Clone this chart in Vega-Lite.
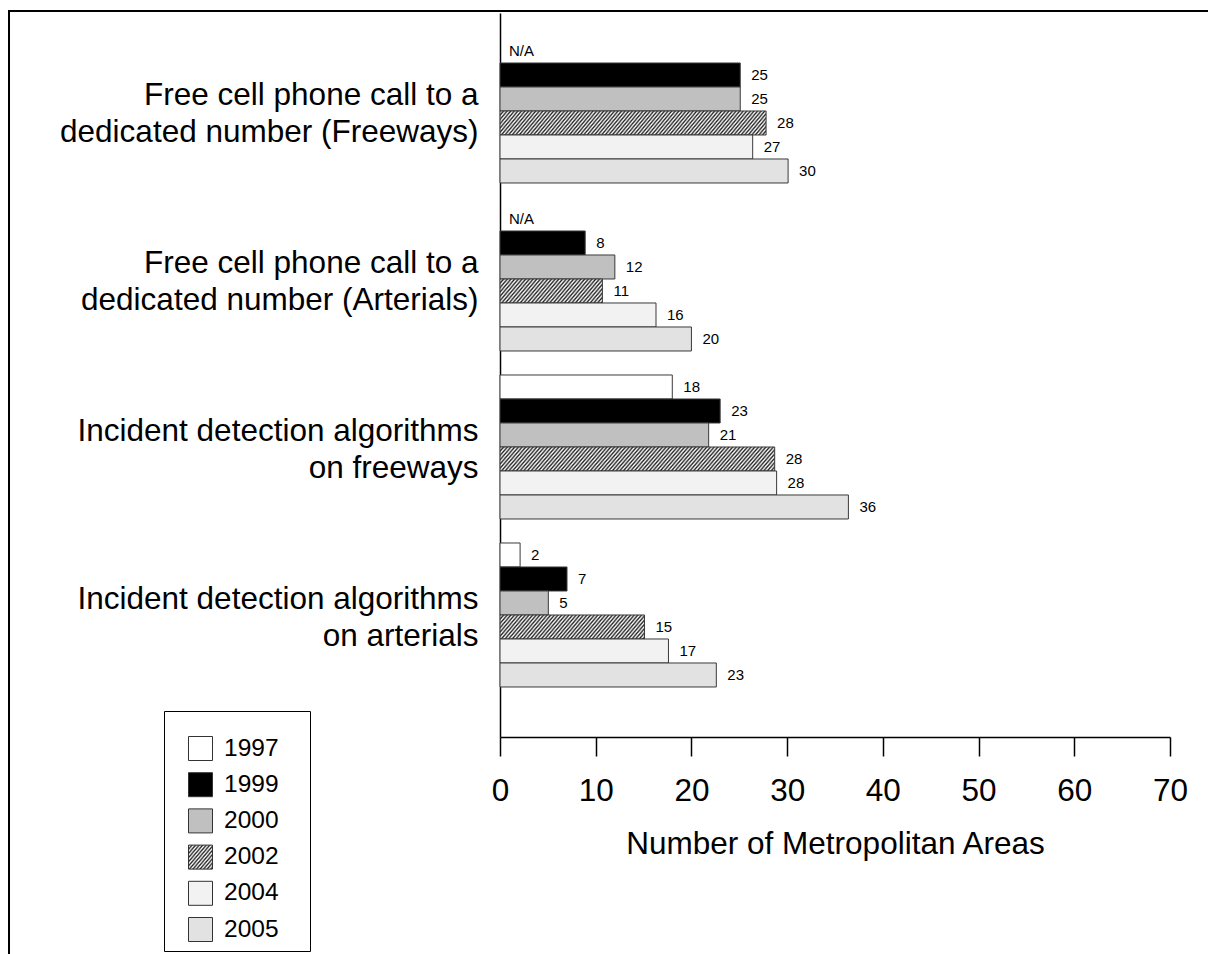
{
  "$schema": "https://vega.github.io/schema/vega-lite/v6.json",
  "padding": {"left": 8, "top": 10, "right": 0, "bottom": 0},
  "background": "white",
  "config": {"view": {"stroke": null}, "font": "Liberation Sans"},
  "params": [
    {"name": "hatchLegend", "value": {"gradient": "linear", "x1": 0, "y1": 0, "x2": 1.074, "y2": 0.9129, "stops": [{"offset":0,"color":"#222"},{"offset":0.04,"color":"#fff"},{"offset":0.08,"color":"#222"},{"offset":0.12,"color":"#fff"},{"offset":0.16,"color":"#222"},{"offset":0.2,"color":"#fff"},{"offset":0.24,"color":"#222"},{"offset":0.28,"color":"#fff"},{"offset":0.32,"color":"#222"},{"offset":0.36,"color":"#fff"},{"offset":0.4,"color":"#222"},{"offset":0.44,"color":"#fff"},{"offset":0.48,"color":"#222"},{"offset":0.52,"color":"#fff"},{"offset":0.56,"color":"#222"},{"offset":0.6,"color":"#fff"},{"offset":0.64,"color":"#222"},{"offset":0.68,"color":"#fff"},{"offset":0.72,"color":"#222"},{"offset":0.76,"color":"#fff"},{"offset":0.8,"color":"#222"},{"offset":0.84,"color":"#fff"},{"offset":0.88,"color":"#222"},{"offset":0.92,"color":"#fff"},{"offset":0.96,"color":"#222"},{"offset":1,"color":"#fff"}]}}
  ],
  "spacing": -2,
  "resolve": {"scale": {"fill": "independent"}},
  "vconcat": [
    {
      "width": 1198, "height": 0.01,
      "data": {"values": []},
      "mark": {"type": "point", "opacity": 0},
      "view": {"stroke": "black", "strokeWidth": 2}
    },
    {
      "spacing": 48,
      "resolve": {"scale": {"fill": "independent"}},
      "hconcat": [
        {
          "width": 0.01, "height": 941,
          "data": {"values": []},
          "mark": {"type": "point", "opacity": 0},
          "view": {"stroke": "black", "strokeWidth": 2}
        },
        {
          "width": 670, "height": 724,
          "data": {"values": [
            {"measure": "Free cell phone call to a\ndedicated number (Freeways)", "year": "1997", "value": null, "label": "N/A"},
            {"measure": "Free cell phone call to a\ndedicated number (Freeways)", "year": "1999", "value": 25.1, "label": "25"},
            {"measure": "Free cell phone call to a\ndedicated number (Freeways)", "year": "2000", "value": 25.1, "label": "25"},
            {"measure": "Free cell phone call to a\ndedicated number (Freeways)", "year": "2002", "value": 27.8, "label": "28"},
            {"measure": "Free cell phone call to a\ndedicated number (Freeways)", "year": "2004", "value": 26.4, "label": "27"},
            {"measure": "Free cell phone call to a\ndedicated number (Freeways)", "year": "2005", "value": 30.1, "label": "30"},
            {"measure": "Free cell phone call to a\ndedicated number (Arterials)", "year": "1997", "value": null, "label": "N/A"},
            {"measure": "Free cell phone call to a\ndedicated number (Arterials)", "year": "1999", "value": 8.9, "label": "8"},
            {"measure": "Free cell phone call to a\ndedicated number (Arterials)", "year": "2000", "value": 12.0, "label": "12"},
            {"measure": "Free cell phone call to a\ndedicated number (Arterials)", "year": "2002", "value": 10.7, "label": "11"},
            {"measure": "Free cell phone call to a\ndedicated number (Arterials)", "year": "2004", "value": 16.3, "label": "16"},
            {"measure": "Free cell phone call to a\ndedicated number (Arterials)", "year": "2005", "value": 20.0, "label": "20"},
            {"measure": "Incident detection algorithms\non freeways", "year": "1997", "value": 18.0, "label": "18"},
            {"measure": "Incident detection algorithms\non freeways", "year": "1999", "value": 23.0, "label": "23"},
            {"measure": "Incident detection algorithms\non freeways", "year": "2000", "value": 21.8, "label": "21"},
            {"measure": "Incident detection algorithms\non freeways", "year": "2002", "value": 28.7, "label": "28"},
            {"measure": "Incident detection algorithms\non freeways", "year": "2004", "value": 28.9, "label": "28"},
            {"measure": "Incident detection algorithms\non freeways", "year": "2005", "value": 36.4, "label": "36"},
            {"measure": "Incident detection algorithms\non arterials", "year": "1997", "value": 2.1, "label": "2"},
            {"measure": "Incident detection algorithms\non arterials", "year": "1999", "value": 7.0, "label": "7"},
            {"measure": "Incident detection algorithms\non arterials", "year": "2000", "value": 5.05, "label": "5"},
            {"measure": "Incident detection algorithms\non arterials", "year": "2002", "value": 15.1, "label": "15"},
            {"measure": "Incident detection algorithms\non arterials", "year": "2004", "value": 17.6, "label": "17"},
            {"measure": "Incident detection algorithms\non arterials", "year": "2005", "value": 22.6, "label": "23"}
          ]},
          "encoding": {
            "y": {
              "field": "measure", "type": "nominal",
              "sort": ["Free cell phone call to a\ndedicated number (Freeways)", "Free cell phone call to a\ndedicated number (Arterials)", "Incident detection algorithms\non freeways", "Incident detection algorithms\non arterials"],
              "scale": {"paddingInner": 0.142857, "paddingOuter": 0.22619, "align": 0.342},
              "axis": {
                "title": null, "labelFontSize": 31.5, "labelLineHeight": 37, "labelPadding": 22, "labelOffset": -15,
                "ticks": false, "domainColor": "black", "domainWidth": 1.5, "labelColor": "black",
                "labelLimit": 1000, "labelAlign": "right", "labelExpr": "split(datum.label, '\\n')"
              }
            },
            "yOffset": {
              "field": "year", "type": "nominal",
              "sort": ["1997", "1999", "2000", "2002", "2004", "2005"],
              "scale": {"paddingInner": 0, "paddingOuter": 0}
            }
          },
          "layer": [
            {
              "mark": {"type": "bar", "stroke": "#3a3a3a", "strokeWidth": 1},
              "encoding": {
                "x": {
                  "field": "value", "type": "quantitative",
                  "scale": {"domain": [0, 70], "nice": false},
                  "axis": {
                    "values": [0, 10, 20, 30, 40, 50, 60, 70], "format": "d",
                    "title": "Number of Metropolitan Areas", "titleFontSize": 31.5, "titleFontWeight": "normal",
                    "titleColor": "black", "titlePadding": 22,
                    "labelFontSize": 31.5, "labelColor": "black", "labelPadding": 19, "labelFlush": false, "labelOverlap": false,
                    "tickSize": 19, "tickColor": "black", "tickWidth": 1.5,
                    "domainColor": "black", "domainWidth": 1.5, "grid": false
                  }
                },
                "fill": {
                  "condition": [
                    {"test": "datum.year === '2002' && (indexof(datum.measure, 'Freeways') >= 0 || indexof(datum.measure, 'on freeways') >= 0)",
                     "value": {"gradient": "linear", "x1": 0, "y1": 0, "x2": 1.0695, "y2": 0.0808, "stops": [
{"offset":0,"color":"#222"},{"offset":0.00625,"color":"#fff"},{"offset":0.0125,"color":"#222"},{"offset":0.01875,"color":"#fff"},{"offset":0.025,"color":"#222"},{"offset":0.03125,"color":"#fff"},{"offset":0.0375,"color":"#222"},{"offset":0.04375,"color":"#fff"},
{"offset":0.05,"color":"#222"},{"offset":0.05625,"color":"#fff"},{"offset":0.0625,"color":"#222"},{"offset":0.06875,"color":"#fff"},{"offset":0.075,"color":"#222"},{"offset":0.08125,"color":"#fff"},{"offset":0.0875,"color":"#222"},{"offset":0.09375,"color":"#fff"},
{"offset":0.1,"color":"#222"},{"offset":0.10625,"color":"#fff"},{"offset":0.1125,"color":"#222"},{"offset":0.11875,"color":"#fff"},{"offset":0.125,"color":"#222"},{"offset":0.13125,"color":"#fff"},{"offset":0.1375,"color":"#222"},{"offset":0.14375,"color":"#fff"},
{"offset":0.15,"color":"#222"},{"offset":0.15625,"color":"#fff"},{"offset":0.1625,"color":"#222"},{"offset":0.16875,"color":"#fff"},{"offset":0.175,"color":"#222"},{"offset":0.18125,"color":"#fff"},{"offset":0.1875,"color":"#222"},{"offset":0.19375,"color":"#fff"},
{"offset":0.2,"color":"#222"},{"offset":0.20625,"color":"#fff"},{"offset":0.2125,"color":"#222"},{"offset":0.21875,"color":"#fff"},{"offset":0.225,"color":"#222"},{"offset":0.23125,"color":"#fff"},{"offset":0.2375,"color":"#222"},{"offset":0.24375,"color":"#fff"},
{"offset":0.25,"color":"#222"},{"offset":0.25625,"color":"#fff"},{"offset":0.2625,"color":"#222"},{"offset":0.26875,"color":"#fff"},{"offset":0.275,"color":"#222"},{"offset":0.28125,"color":"#fff"},{"offset":0.2875,"color":"#222"},{"offset":0.29375,"color":"#fff"},
{"offset":0.3,"color":"#222"},{"offset":0.30625,"color":"#fff"},{"offset":0.3125,"color":"#222"},{"offset":0.31875,"color":"#fff"},{"offset":0.325,"color":"#222"},{"offset":0.33125,"color":"#fff"},{"offset":0.3375,"color":"#222"},{"offset":0.34375,"color":"#fff"},
{"offset":0.35,"color":"#222"},{"offset":0.35625,"color":"#fff"},{"offset":0.3625,"color":"#222"},{"offset":0.36875,"color":"#fff"},{"offset":0.375,"color":"#222"},{"offset":0.38125,"color":"#fff"},{"offset":0.3875,"color":"#222"},{"offset":0.39375,"color":"#fff"},
{"offset":0.4,"color":"#222"},{"offset":0.40625,"color":"#fff"},{"offset":0.4125,"color":"#222"},{"offset":0.41875,"color":"#fff"},{"offset":0.425,"color":"#222"},{"offset":0.43125,"color":"#fff"},{"offset":0.4375,"color":"#222"},{"offset":0.44375,"color":"#fff"},
{"offset":0.45,"color":"#222"},{"offset":0.45625,"color":"#fff"},{"offset":0.4625,"color":"#222"},{"offset":0.46875,"color":"#fff"},{"offset":0.475,"color":"#222"},{"offset":0.48125,"color":"#fff"},{"offset":0.4875,"color":"#222"},{"offset":0.49375,"color":"#fff"},
{"offset":0.5,"color":"#222"},{"offset":0.50625,"color":"#fff"},{"offset":0.5125,"color":"#222"},{"offset":0.51875,"color":"#fff"},{"offset":0.525,"color":"#222"},{"offset":0.53125,"color":"#fff"},{"offset":0.5375,"color":"#222"},{"offset":0.54375,"color":"#fff"},
{"offset":0.55,"color":"#222"},{"offset":0.55625,"color":"#fff"},{"offset":0.5625,"color":"#222"},{"offset":0.56875,"color":"#fff"},{"offset":0.575,"color":"#222"},{"offset":0.58125,"color":"#fff"},{"offset":0.5875,"color":"#222"},{"offset":0.59375,"color":"#fff"},
{"offset":0.6,"color":"#222"},{"offset":0.60625,"color":"#fff"},{"offset":0.6125,"color":"#222"},{"offset":0.61875,"color":"#fff"},{"offset":0.625,"color":"#222"},{"offset":0.63125,"color":"#fff"},{"offset":0.6375,"color":"#222"},{"offset":0.64375,"color":"#fff"},
{"offset":0.65,"color":"#222"},{"offset":0.65625,"color":"#fff"},{"offset":0.6625,"color":"#222"},{"offset":0.66875,"color":"#fff"},{"offset":0.675,"color":"#222"},{"offset":0.68125,"color":"#fff"},{"offset":0.6875,"color":"#222"},{"offset":0.69375,"color":"#fff"},
{"offset":0.7,"color":"#222"},{"offset":0.70625,"color":"#fff"},{"offset":0.7125,"color":"#222"},{"offset":0.71875,"color":"#fff"},{"offset":0.725,"color":"#222"},{"offset":0.73125,"color":"#fff"},{"offset":0.7375,"color":"#222"},{"offset":0.74375,"color":"#fff"},
{"offset":0.75,"color":"#222"},{"offset":0.75625,"color":"#fff"},{"offset":0.7625,"color":"#222"},{"offset":0.76875,"color":"#fff"},{"offset":0.775,"color":"#222"},{"offset":0.78125,"color":"#fff"},{"offset":0.7875,"color":"#222"},{"offset":0.79375,"color":"#fff"},
{"offset":0.8,"color":"#222"},{"offset":0.80625,"color":"#fff"},{"offset":0.8125,"color":"#222"},{"offset":0.81875,"color":"#fff"},{"offset":0.825,"color":"#222"},{"offset":0.83125,"color":"#fff"},{"offset":0.8375,"color":"#222"},{"offset":0.84375,"color":"#fff"},
{"offset":0.85,"color":"#222"},{"offset":0.85625,"color":"#fff"},{"offset":0.8625,"color":"#222"},{"offset":0.86875,"color":"#fff"},{"offset":0.875,"color":"#222"},{"offset":0.88125,"color":"#fff"},{"offset":0.8875,"color":"#222"},{"offset":0.89375,"color":"#fff"},
{"offset":0.9,"color":"#222"},{"offset":0.90625,"color":"#fff"},{"offset":0.9125,"color":"#222"},{"offset":0.91875,"color":"#fff"},{"offset":0.925,"color":"#222"},{"offset":0.93125,"color":"#fff"},{"offset":0.9375,"color":"#222"},{"offset":0.94375,"color":"#fff"},
{"offset":0.95,"color":"#222"},{"offset":0.95625,"color":"#fff"},{"offset":0.9625,"color":"#222"},{"offset":0.96875,"color":"#fff"},{"offset":0.975,"color":"#222"},{"offset":0.98125,"color":"#fff"},{"offset":0.9875,"color":"#222"},{"offset":0.99375,"color":"#fff"},
{"offset":1,"color":"#222"}]}},
                    {"test": "datum.year === '2002' && indexof(datum.measure, 'Arterials') >= 0",
                     "value": {"gradient": "linear", "x1": 0, "y1": 0, "x2": 1.1534, "y2": 0.2298, "stops": [
{"offset":0,"color":"#222"},{"offset":0.015,"color":"#fff"},{"offset":0.03,"color":"#222"},{"offset":0.045,"color":"#fff"},{"offset":0.06,"color":"#222"},{"offset":0.075,"color":"#fff"},{"offset":0.09,"color":"#222"},{"offset":0.105,"color":"#fff"},{"offset":0.12,"color":"#222"},{"offset":0.135,"color":"#fff"},
{"offset":0.15,"color":"#222"},{"offset":0.165,"color":"#fff"},{"offset":0.18,"color":"#222"},{"offset":0.195,"color":"#fff"},{"offset":0.21,"color":"#222"},{"offset":0.225,"color":"#fff"},{"offset":0.24,"color":"#222"},{"offset":0.255,"color":"#fff"},{"offset":0.27,"color":"#222"},{"offset":0.285,"color":"#fff"},
{"offset":0.3,"color":"#222"},{"offset":0.315,"color":"#fff"},{"offset":0.33,"color":"#222"},{"offset":0.345,"color":"#fff"},{"offset":0.36,"color":"#222"},{"offset":0.375,"color":"#fff"},{"offset":0.39,"color":"#222"},{"offset":0.405,"color":"#fff"},{"offset":0.42,"color":"#222"},{"offset":0.435,"color":"#fff"},
{"offset":0.45,"color":"#222"},{"offset":0.465,"color":"#fff"},{"offset":0.48,"color":"#222"},{"offset":0.495,"color":"#fff"},{"offset":0.51,"color":"#222"},{"offset":0.525,"color":"#fff"},{"offset":0.54,"color":"#222"},{"offset":0.555,"color":"#fff"},{"offset":0.57,"color":"#222"},{"offset":0.585,"color":"#fff"},
{"offset":0.6,"color":"#222"},{"offset":0.615,"color":"#fff"},{"offset":0.63,"color":"#222"},{"offset":0.645,"color":"#fff"},{"offset":0.66,"color":"#222"},{"offset":0.675,"color":"#fff"},{"offset":0.69,"color":"#222"},{"offset":0.705,"color":"#fff"},{"offset":0.72,"color":"#222"},{"offset":0.735,"color":"#fff"},
{"offset":0.75,"color":"#222"},{"offset":0.765,"color":"#fff"},{"offset":0.78,"color":"#222"},{"offset":0.795,"color":"#fff"},{"offset":0.81,"color":"#222"},{"offset":0.825,"color":"#fff"},{"offset":0.84,"color":"#222"},{"offset":0.855,"color":"#fff"},{"offset":0.87,"color":"#222"},{"offset":0.885,"color":"#fff"},
{"offset":0.9,"color":"#222"},{"offset":0.915,"color":"#fff"},{"offset":0.93,"color":"#222"},{"offset":0.945,"color":"#fff"},{"offset":0.96,"color":"#222"},{"offset":0.975,"color":"#fff"},{"offset":0.99,"color":"#222"}]}},
                    {"test": "datum.year === '2002' && indexof(datum.measure, 'on arterials') >= 0",
                     "value": {"gradient": "linear", "x1": 0, "y1": 0, "x2": 1.1189, "y2": 0.158, "stops": [
{"offset":0,"color":"#222"},{"offset":0.011,"color":"#fff"},{"offset":0.022,"color":"#222"},{"offset":0.033,"color":"#fff"},{"offset":0.044,"color":"#222"},{"offset":0.055,"color":"#fff"},{"offset":0.066,"color":"#222"},{"offset":0.077,"color":"#fff"},{"offset":0.088,"color":"#222"},{"offset":0.099,"color":"#fff"},
{"offset":0.11,"color":"#222"},{"offset":0.121,"color":"#fff"},{"offset":0.132,"color":"#222"},{"offset":0.143,"color":"#fff"},{"offset":0.154,"color":"#222"},{"offset":0.165,"color":"#fff"},{"offset":0.176,"color":"#222"},{"offset":0.187,"color":"#fff"},{"offset":0.198,"color":"#222"},{"offset":0.209,"color":"#fff"},
{"offset":0.22,"color":"#222"},{"offset":0.231,"color":"#fff"},{"offset":0.242,"color":"#222"},{"offset":0.253,"color":"#fff"},{"offset":0.264,"color":"#222"},{"offset":0.275,"color":"#fff"},{"offset":0.286,"color":"#222"},{"offset":0.297,"color":"#fff"},{"offset":0.308,"color":"#222"},{"offset":0.319,"color":"#fff"},
{"offset":0.33,"color":"#222"},{"offset":0.341,"color":"#fff"},{"offset":0.352,"color":"#222"},{"offset":0.363,"color":"#fff"},{"offset":0.374,"color":"#222"},{"offset":0.385,"color":"#fff"},{"offset":0.396,"color":"#222"},{"offset":0.407,"color":"#fff"},{"offset":0.418,"color":"#222"},{"offset":0.429,"color":"#fff"},
{"offset":0.44,"color":"#222"},{"offset":0.451,"color":"#fff"},{"offset":0.462,"color":"#222"},{"offset":0.473,"color":"#fff"},{"offset":0.484,"color":"#222"},{"offset":0.495,"color":"#fff"},{"offset":0.506,"color":"#222"},{"offset":0.517,"color":"#fff"},{"offset":0.528,"color":"#222"},{"offset":0.539,"color":"#fff"},
{"offset":0.55,"color":"#222"},{"offset":0.561,"color":"#fff"},{"offset":0.572,"color":"#222"},{"offset":0.583,"color":"#fff"},{"offset":0.594,"color":"#222"},{"offset":0.605,"color":"#fff"},{"offset":0.616,"color":"#222"},{"offset":0.627,"color":"#fff"},{"offset":0.638,"color":"#222"},{"offset":0.649,"color":"#fff"},
{"offset":0.66,"color":"#222"},{"offset":0.671,"color":"#fff"},{"offset":0.682,"color":"#222"},{"offset":0.693,"color":"#fff"},{"offset":0.704,"color":"#222"},{"offset":0.715,"color":"#fff"},{"offset":0.726,"color":"#222"},{"offset":0.737,"color":"#fff"},{"offset":0.748,"color":"#222"},{"offset":0.759,"color":"#fff"},
{"offset":0.77,"color":"#222"},{"offset":0.781,"color":"#fff"},{"offset":0.792,"color":"#222"},{"offset":0.803,"color":"#fff"},{"offset":0.814,"color":"#222"},{"offset":0.825,"color":"#fff"},{"offset":0.836,"color":"#222"},{"offset":0.847,"color":"#fff"},{"offset":0.858,"color":"#222"},{"offset":0.869,"color":"#fff"},
{"offset":0.88,"color":"#222"},{"offset":0.891,"color":"#fff"},{"offset":0.902,"color":"#222"},{"offset":0.913,"color":"#fff"},{"offset":0.924,"color":"#222"},{"offset":0.935,"color":"#fff"},{"offset":0.946,"color":"#222"},{"offset":0.957,"color":"#fff"},{"offset":0.968,"color":"#222"},{"offset":0.979,"color":"#fff"},
{"offset":0.99,"color":"#222"}]}}
                  ],
                  "field": "year", "type": "nominal",
                  "scale": {
                    "domain": ["1997", "1999", "2000", "2002", "2004", "2005"],
                    "range": ["#ffffff", "#000000", "#c0c0c0", {"expr": "hatchLegend"}, "#f2f2f2", "#e2e2e2"]
                  },
                  "legend": {
                    "orient": "none", "legendX": -336, "legendY": 698,
                    "title": "\u2800\u2800\u2800\u2800\u2800\u2800\u2800\u2800\u2800\u2800\u2800\u2800\u2800\u2800\u2800\u2800\u2800\u2800\u2800\u2800\u2800\u2800",
                    "titleFontSize": 8, "titlePadding": 10, "titleColor": "white",
                    "padding": 7, "strokeColor": "black", "fillColor": "white",
                    "symbolType": "square", "symbolSize": 576, "symbolOffset": 17,
                    "symbolStrokeColor": "#333", "symbolStrokeWidth": 1,
                    "labelFontSize": 24.5, "labelColor": "black", "labelOffset": 11, "rowPadding": 7.2
                  }
                }
              }
            },
            {
              "transform": [{"filter": "isValid(datum.value)"}],
              "mark": {"type": "text", "align": "left", "baseline": "middle", "dx": 11, "fontSize": 15, "color": "black"},
              "encoding": {
                "x": {"field": "value", "type": "quantitative"},
                "text": {"field": "label"}
              }
            },
            {
              "transform": [{"filter": "!isValid(datum.value)"}],
              "mark": {"type": "text", "align": "left", "baseline": "middle", "dx": 9, "fontSize": 15, "color": "black"},
              "encoding": {
                "x": {"datum": 0},
                "text": {"field": "label"}
              }
            }
          ]
        }
      ]
    }
  ]
}
